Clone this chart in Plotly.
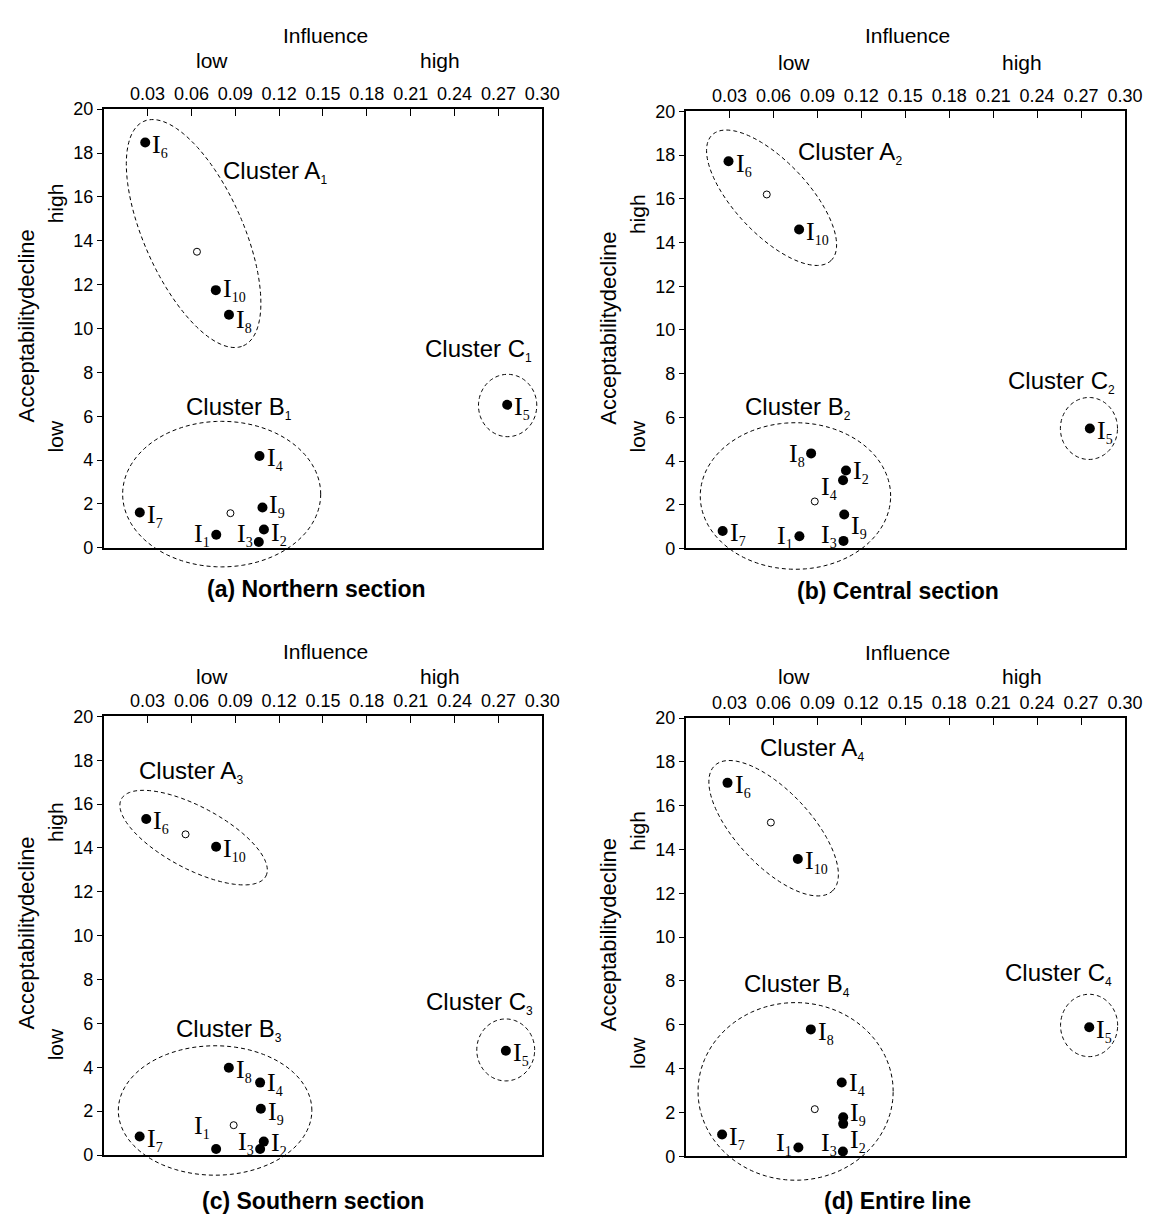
import numpy as np
import plotly.graph_objects as go

W, H = 1159, 1217

# ---------------- data ----------------
indicator_no = [1, 2, 3, 4, 5, 6, 7, 8, 9, 10]

north_influence = [0.077, 0.1096, 0.1061, 0.1066, 0.276, 0.0284, 0.0247, 0.0857, 0.1086, 0.0767]
north_decline   = [0.60, 0.84, 0.27, 4.19, 6.52, 18.48, 1.61, 10.63, 1.84, 11.75]
north_centroid_inf = [0.0638, 0.0867]
north_centroid_dec = [13.5, 1.58]

central_influence = [0.0777, 0.1095, 0.1078, 0.1075, 0.276, 0.0293, 0.0253, 0.0857, 0.1083, 0.0775]
central_decline   = [0.555, 3.57, 0.345, 3.12, 5.49, 17.72, 0.80, 4.35, 1.55, 14.6]
central_centroid_inf = [0.0554, 0.0882]
central_centroid_dec = [16.2, 2.15]

south_influence = [0.0769, 0.1095, 0.107, 0.107, 0.2751, 0.0291, 0.0246, 0.0856, 0.1075, 0.0769]
south_decline   = [0.27, 0.61, 0.27, 3.30, 4.75, 15.32, 0.84, 3.98, 2.11, 14.05]
south_centroid_inf = [0.056, 0.0889]
south_centroid_dec = [14.62, 1.36]

entire_influence = [0.077, 0.1076, 0.1074, 0.1066, 0.2756, 0.0286, 0.0249, 0.0855, 0.1076, 0.0766]
entire_decline   = [0.40, 1.48, 0.22, 3.37, 5.89, 17.04, 0.99, 5.79, 1.78, 13.57]
entire_centroid_inf = [0.0582, 0.0882]
entire_centroid_dec = [15.23, 2.15]

x_ticks = [0.03, 0.06, 0.09, 0.12, 0.15, 0.18, 0.21, 0.24, 0.27, 0.30]
x_tick_labels = ["0.03", "0.06", "0.09", "0.12", "0.15", "0.18", "0.21", "0.24", "0.27", "0.30"]
y_ticks = [0, 2, 4, 6, 8, 10, 12, 14, 16, 18, 20]

panel_titles = ["(a) Northern section", "(b) Central section", "(c) Southern section", "(d) Entire line"]
cluster_names = ["A", "B", "C"]

# cluster label anchor (data coords, left edge / vertical middle)
cluster_label_x = [[0.0809, 0.0556, 0.219], [0.076, 0.040, 0.2193], [0.0234, 0.049, 0.2201], [0.0502, 0.0395, 0.2172]]
cluster_label_y = [[17.13, 6.37, 9.03], [18.12, 6.42, 7.62], [17.46, 5.72, 6.95], [18.58, 7.81, 8.33]]

# ellipse outlines: centre (data), semi-axes (px), rotation (deg, y-up)
ell_cx = [[0.0615, 0.0807, 0.2763], [0.0587, 0.075, 0.2754], [0.0615, 0.0762, 0.275], [0.0601, 0.0751, 0.2755]]
ell_cy = [[14.33, 2.45, 6.49], [16.05, 2.40, 5.49], [14.47, 2.03, 4.79], [14.97, 2.96, 5.97]]
ell_a  = [[124.8, 100.6, 29.6], [87.9, 96.7, 29.0], [83.2, 98.3, 29.4], [87.4, 99.1, 29.0]]
ell_b  = [[50.3, 74.0, 31.7], [37.1, 74.5, 31.5], [31.6, 65.8, 31.5], [37.8, 90.3, 31.7]]
ell_ang = [[-66.1, 0, 0], [-46.7, 0, 0], [-28.1, 0, 0], [-46.9, 0, 0]]

# label side (r/l) and vertical offset (px, +down) for I1..I10
label_side = [
    ["l", "r", "l", "r", "r", "r", "r", "r", "r", "r"],
    ["l", "r", "l", "l", "r", "r", "r", "l", "r", "r"],
    ["l", "r", "l", "r", "r", "r", "r", "r", "r", "r"],
    ["l", "r", "l", "r", "r", "r", "r", "r", "r", "r"],
]
label_dy = [
    [-3, 1, -10, 0, 0, 0, 0, 3, -5, -4],
    [-3, -2, -8, 4, 0, 0, 0, -2, 9, 0],
    [-26, -1, -10, -2, 0, 0, 0, 0, 1, 0],
    [-7, 14, -11, -2, 0, 0, 0, 0, -7, 0],
]

panels = [
    (north_influence, north_decline, north_centroid_inf, north_centroid_dec),
    (central_influence, central_decline, central_centroid_inf, central_centroid_dec),
    (south_influence, south_decline, south_centroid_inf, south_centroid_dec),
    (entire_influence, entire_decline, entire_centroid_inf, entire_centroid_dec),
]

# ---------------- layout geometry (pixels) ----------------
boxes = [(97.2, 92.7, 542.7, 538.7), (688.3, 95, 1134.6, 539.3),
         (97.2, 710, 542.7, 1156), (688.3, 711.7, 1134.6, 1157.3)]
top_text_y = [(18, 43), (18, 45), (644, 669), (645, 670)]
left_high_y = [188, 199, 817, 826]
left_low_y = [425, 425, 1043, 1052]
title_pos = [(313, 581), (904, 583), (310, 1203), (904, 1203)]
XR = [0, 0.30]
YR = [0, 20]

SANS = "Arial, Liberation Sans, Helvetica, sans-serif"
SERIF = "Times New Roman, Liberation Serif, serif"

def px2paper(px, py):
    return px / W, 1 - py / H

fig = go.Figure()
shapes = []
annotations = []

def add_text(txt, px, py, size, angle=0, bold=False):
    xp, yp = px2paper(px, py)
    annotations.append(dict(xref="paper", yref="paper", x=xp, y=yp, xanchor="center", yanchor="middle",
                            showarrow=False, textangle=angle,
                            text=("<b>%s</b>" % txt) if bold else txt,
                            font=dict(family=SANS, size=size, color="black")))

for k, (inf, dec, cinf, cdec) in enumerate(panels):
    ax = "" if k == 0 else str(k + 1)
    l, t, r, b = boxes[k]
    xd = [l / W, r / W]
    yd = [1 - b / H, 1 - t / H]
    fig.update_layout(**{
        f"xaxis{ax}": dict(domain=xd, range=XR, side="top", tickvals=x_ticks, ticktext=x_tick_labels,
                           ticks="inside", ticklen=7, tickwidth=1.2, tickcolor="black",
                           showline=True, linecolor="black", linewidth=1.6, mirror=True,
                           showgrid=False, zeroline=False, anchor=f"y{ax}",
                           tickfont=dict(family=SANS, size=18, color="black")),
        f"yaxis{ax}": dict(domain=yd, range=YR, tickvals=y_ticks,
                           ticks="outside", ticklen=5, tickwidth=1.2, tickcolor="black",
                           showline=True, linecolor="black", linewidth=1.6, mirror=True,
                           showgrid=False, zeroline=False, anchor=f"x{ax}",
                           tickfont=dict(family=SANS, size=18, color="black")),
    })
    xa, ya = f"x{ax}", f"y{ax}"
    fig.add_trace(go.Scatter(x=inf, y=dec, mode="markers", cliponaxis=False,
                             marker=dict(size=10, color="black"), xaxis=xa, yaxis=ya,
                             showlegend=False, hoverinfo="skip"))
    fig.add_trace(go.Scatter(x=cinf, y=cdec, mode="markers", cliponaxis=False,
                             marker=dict(size=7, color="white", line=dict(color="black", width=1)),
                             xaxis=xa, yaxis=ya, showlegend=False, hoverinfo="skip"))

    # indicator labels
    for i, n in enumerate(indicator_no):
        right = label_side[k][i] == "r"
        annotations.append(dict(xref=xa, yref=ya, x=inf[i], y=dec[i],
                                xanchor="left" if right else "right", yanchor="middle",
                                xshift=6 if right else -5, yshift=-label_dy[k][i] - 3,
                                showarrow=False, borderpad=0,
                                text="I<sub><span style='font-size:14px;color:black'>%d</span></sub>" % n,
                                font=dict(family=SERIF, size=26, color="black")))

    # ellipses (paper coords, not clipped)
    pw, ph = r - l, b - t
    for j in range(3):
        cxp = l + (ell_cx[k][j] - XR[0]) / (XR[1] - XR[0]) * pw
        cyp = b - (ell_cy[k][j] - YR[0]) / (YR[1] - YR[0]) * ph
        th = np.deg2rad(ell_ang[k][j])
        phi = np.linspace(0, 2 * np.pi, 121)
        ex = ell_a[k][j] * np.cos(phi) * np.cos(th) - ell_b[k][j] * np.sin(phi) * np.sin(th)
        ey = ell_a[k][j] * np.cos(phi) * np.sin(th) + ell_b[k][j] * np.sin(phi) * np.cos(th)
        pts = [px2paper(cxp + u, cyp - v) for u, v in zip(ex, ey)]
        path = "M " + " L ".join(f"{p[0]:.5f},{p[1]:.5f}" for p in pts) + " Z"
        shapes.append(dict(type="path", xref="paper", yref="paper", path=path,
                           line=dict(color="black", width=1, dash="4px,3px")))
        annotations.append(dict(xref=xa, yref=ya, x=cluster_label_x[k][j], y=cluster_label_y[k][j],
                                xanchor="left", yanchor="middle", showarrow=False, borderpad=0,
                                text="Cluster %s<sub><span style='font-size:12px;color:black'>%d</span></sub>" % (cluster_names[j], k + 1),
                                font=dict(family=SANS, size=24, color="black")))

    # axis captions
    add_text("Influence", l + 225, top_text_y[k][0], 21)
    add_text("low", l + 110, top_text_y[k][1], 21)
    add_text("high", l + 342, top_text_y[k][1], 21)
    add_text("Acceptabilitydecline", l - 78, t + 220, 22, angle=-90)
    add_text("high", l - 49, left_high_y[k], 21, angle=-90)
    add_text("low", l - 49, left_low_y[k], 21, angle=-90)
    add_text(panel_titles[k], title_pos[k][0], title_pos[k][1], 23, bold=True)

fig.update_layout(width=W, height=H, margin=dict(l=0, r=0, t=0, b=0),
                  paper_bgcolor="white", plot_bgcolor="white",
                  shapes=shapes, annotations=annotations, showlegend=False)

fig.write_html("out.html")
